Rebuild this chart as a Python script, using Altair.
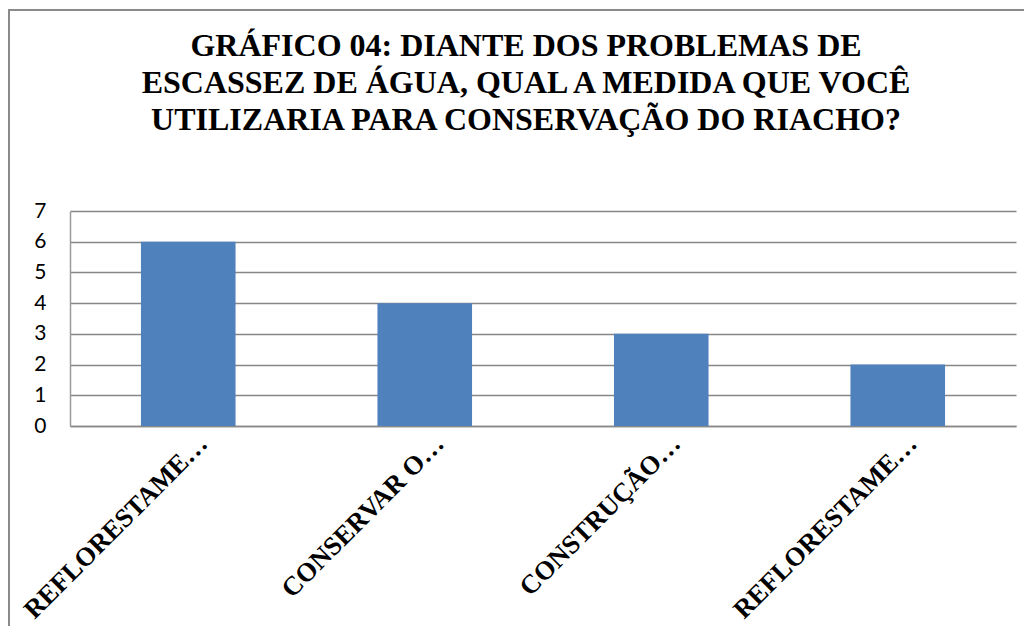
import altair as alt
import pandas as pd

ids = ["0", "1", "2", "3"]
labels = ["REFLORESTAME…", "CONSERVAR O…", "CONSTRUÇÃO…", "REFLORESTAME…"]
values = [6, 4, 3, 2]
title_lines = [
    "GRÁFICO 04: DIANTE DOS PROBLEMAS DE",
    "ESCASSEZ DE ÁGUA, QUAL  A MEDIDA QUE VOCÊ",
    "UTILIZARIA PARA CONSERVAÇÃO DO RIACHO?",
]

df = pd.DataFrame({"id": ids, "value": values})
label_expr = "[" + ",".join("'" + l + "'" for l in labels) + "][toNumber(datum.value)]"

bars = alt.Chart(df).mark_bar(color="#4F81BD").encode(
    x=alt.X("id:N", sort=ids, title=None,
            scale=alt.Scale(paddingInner=0.6, paddingOuter=0.3),
            axis=alt.Axis(labelExpr=label_expr, labelAngle=-45, labelAlign="right",
                          labelBaseline="top", labelOffset=6, labelPadding=4,
                          labelFont="Liberation Serif", labelFontWeight="bold",
                          labelFontSize=26.5, labelColor="black", ticks=False,
                          domainColor="#888888", domainWidth=1.5, labelLimit=400)),
    y=alt.Y("value:Q", title=None,
            scale=alt.Scale(domain=[0, 7], nice=False),
            axis=alt.Axis(values=[0, 1, 2, 3, 4, 5, 6, 7], ticks=False,
                          labelFont="Lato", labelFontSize=21, labelColor="black",
                          labelPadding=24, gridColor="#868686", gridWidth=1.5,
                          domainColor="#9a9a9a", domainWidth=1.5)),
)

frame = alt.Chart(df).mark_rect(fill=None, stroke="#8a8a8a", strokeWidth=2).encode(
    x=alt.value(-61), x2=alt.value(980), y=alt.value(-201), y2=alt.value(440)
)

chart = alt.layer(frame, bars).properties(
    width=946, height=215,
    autosize=alt.AutoSizeParams(type="none"),
    padding={"left": 62, "top": 203, "right": 8, "bottom": 200},
    title=alt.TitleParams(title_lines, font="Liberation Serif", fontWeight="bold",
                          fontSize=32, lineHeight=37, color="black", anchor="middle",
                          frame="group", baseline="bottom", dx=-17, offset=0, dy=160),
).configure_view(stroke=None)

chart.save("out.html", embed_options={"renderer": "svg", "actions": False})
